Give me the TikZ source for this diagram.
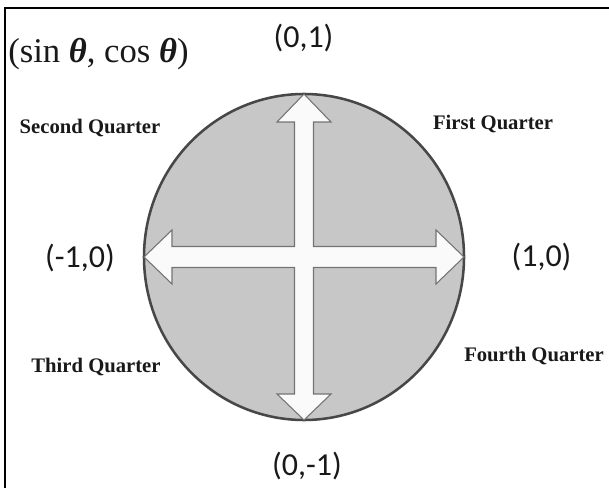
\documentclass[tikz,border=0pt]{standalone}
\usepackage{fontspec}
\setmainfont{Liberation Serif}
\newfontfamily\coordfont{Carlito}
\begin{document}
\begin{tikzpicture}[x=0.75pt,y=-0.75pt,
  coordlbl/.style={font=\coordfont\fontsize{24}{28}\selectfont,text=black!90,inner sep=0pt,anchor=center},
  quarterlbl/.style={font=\bfseries\fontsize{15.5}{18}\selectfont,text=black!90,inner sep=0pt,anchor=base},
  titlelbl/.style={font=\fontsize{26}{30}\selectfont,text=black!90,inner sep=0pt,anchor=base west},
  disc/.style={fill=black!22,draw=black!72,line width=1.9pt},
  crossarrow/.style={fill=black!2,draw=black!55,line width=0.8pt,line join=miter}]
\useasboundingbox (0,0) rectangle (609,488);
\fill[white] (0,0) rectangle (609,488);
% frame (top and left edges only)
\draw[black,line width=1.7pt] (5.2,488) -- (5.2,8) -- (609,8);
% disc
\path[disc] (304,257) ellipse [x radius=160, y radius=163];
% four-way arrow
\path[crossarrow] (304,94) -- (331,122) -- (313.5,122) -- (313.5,246.5) -- (436,246.5) -- (436,230)
  -- (464,257) -- (436,284) -- (436,267.5) -- (313.5,267.5) -- (313.5,394) -- (331,394)
  -- (304,420) -- (277,394) -- (294.5,394) -- (294.5,267.5) -- (172,267.5) -- (172,284)
  -- (144,257) -- (172,230) -- (172,246.5) -- (294.5,246.5) -- (294.5,122) -- (277,122) -- cycle;
% labels
\node[titlelbl] (title) at (8,63) {(sin {\bfseries\itshape θ}, cos {\bfseries\itshape θ})};
\node[coordlbl] (top) at (303.5,38) {(0,1)};
\node[coordlbl] (bottom) at (307,466) {(0,-1)};
\node[coordlbl] (left) at (80,258) {(-1,0)};
\node[coordlbl] (right) at (541.5,257) {(1,0)};
\node[quarterlbl] (q2) at (90,134) {Second Quarter};
\node[quarterlbl] (q1) at (493,130) {First Quarter};
\node[quarterlbl] (q3) at (96,372) {Third Quarter};
\node[quarterlbl] (q4) at (534,361) {Fourth Quarter};
\end{tikzpicture}
\end{document}
